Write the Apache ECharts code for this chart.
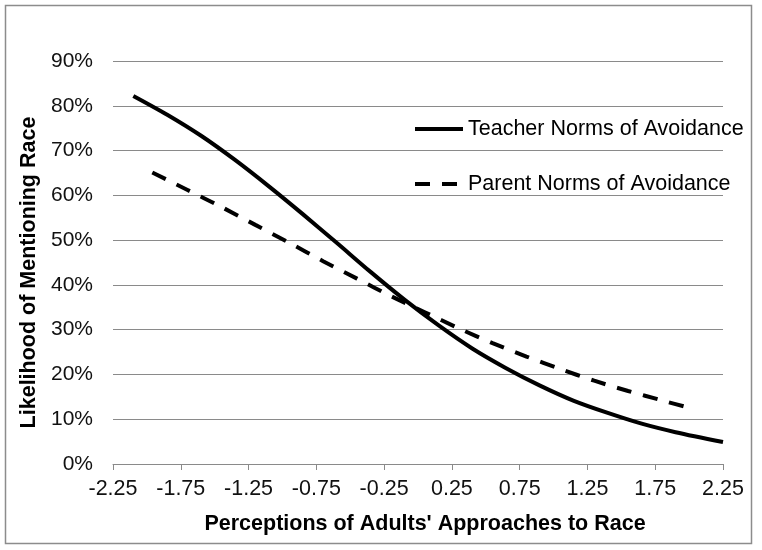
<!DOCTYPE html>
<html>
<head>
<meta charset="utf-8">
<script src="https://cdn.jsdelivr.net/npm/echarts@6/dist/echarts.min.js"></script>
<style>
html,body{margin:0;padding:0;background:#fff;}
#chart{width:762px;height:550px;}
</style>
</head>
<body>
<div id="chart"></div>
<script>
// Data
var teacherX = [-2.1, -1.85, -1.6, -1.35, -1.1, -0.85, -0.6, -0.35, -0.1, 0.15, 0.4, 0.65, 0.9, 1.15, 1.4, 1.65, 1.9, 2.25];
var teacherY = [82.2, 78.0, 73.3, 67.9, 62.0, 55.8, 49.4, 42.9, 36.7, 31.0, 25.8, 21.4, 17.5, 14.1, 11.4, 9.0, 7.1, 4.9];
var parentX = [-1.96, -1.7, -1.45, -1.2, -0.95, -0.7, -0.45, -0.2, 0.05, 0.3, 0.55, 0.8, 1.05, 1.3, 1.55, 1.8, 2.03];
var parentY = [65.1, 61.2, 57.4, 53.4, 49.4, 45.3, 41.4, 37.5, 33.9, 30.3, 27.0, 24.0, 21.2, 18.6, 16.3, 14.2, 12.3];
var seriesNames = ["Teacher Norms of Avoidance", "Parent Norms of Avoidance"];
var xTitle = "Perceptions of Adults' Approaches to Race";
var yTitle = "Likelihood of Mentioning Race";

function pairs(xs, ys){ return xs.map(function(x,i){ return [x, ys[i]]; }); }

var FONT = "'Liberation Sans', Arial, sans-serif";
var chart = echarts.init(document.getElementById('chart'), null, {renderer:'canvas'});
chart.setOption({
  animation: false,
  backgroundColor: '#fff',
  textStyle: {fontFamily: FONT},
  graphic: [{
    type: 'rect', shape: {x: 5.5, y: 5.5, width: 746, height: 538},
    style: {fill: 'none', stroke: '#8c8c8c', lineWidth: 1.5}, silent: true
  }],
  grid: {left: 113, right: 39, top: 61, bottom: 86, containLabel: false},
  legend: {
    orient: 'vertical', left: 408, top: 113, itemGap: 33,
    itemWidth: 48, itemHeight: 14,
    itemStyle: {opacity: 0, borderWidth: 0},
    lineStyle: {width: 4},
    textStyle: {fontFamily: FONT, fontSize: 21.5, color: '#000'},
    data: seriesNames
  },
  xAxis: {
    type: 'value', min: -2.25, max: 2.25, interval: 0.5,
    name: xTitle, nameLocation: 'middle', nameGap: 49,
    nameTextStyle: {fontFamily: FONT, fontSize: 21.5, fontWeight: 'bold', color: '#000', padding: [0, 0, 0, 14]},
    axisLine: {show: true, onZero: false, lineStyle: {color: '#8a8a8a', width: 1}},
    axisTick: {show: true, length: 6, lineStyle: {color: '#8a8a8a'}},
    axisLabel: {fontFamily: FONT, fontSize: 21.5, color: '#111', margin: 14,
      formatter: function(v){ return v.toFixed(2); }},
    splitLine: {show: false}
  },
  yAxis: {
    type: 'value', min: 0, max: 90, interval: 10,
    name: yTitle, nameLocation: 'middle', nameGap: 70, nameRotate: 90,
    nameTextStyle: {fontFamily: FONT, fontSize: 21.5, fontWeight: 'bold', color: '#000', padding: [0, 20, 0, 0]},
    axisLine: {show: false}, axisTick: {show: false},
    axisLabel: {fontFamily: FONT, fontSize: 21, color: '#111', margin: 20, formatter: '{value}%'},
    splitLine: {show: true, lineStyle: {color: '#8a8a8a', width: 1}}
  },
  series: [
    {name: seriesNames[0], type: 'line', data: pairs(teacherX, teacherY), smooth: 0.3,
     symbol: 'none', lineStyle: {color: '#000', width: 4, cap: 'butt'}, itemStyle: {color: '#000'}},
    {name: seriesNames[1], type: 'line', data: pairs(parentX, parentY), smooth: 0.3,
     symbol: 'none', lineStyle: {color: '#000', width: 4, type: [15, 12], cap: 'butt'}, itemStyle: {color: '#000'}}
  ]
});
</script>
</body>
</html>
